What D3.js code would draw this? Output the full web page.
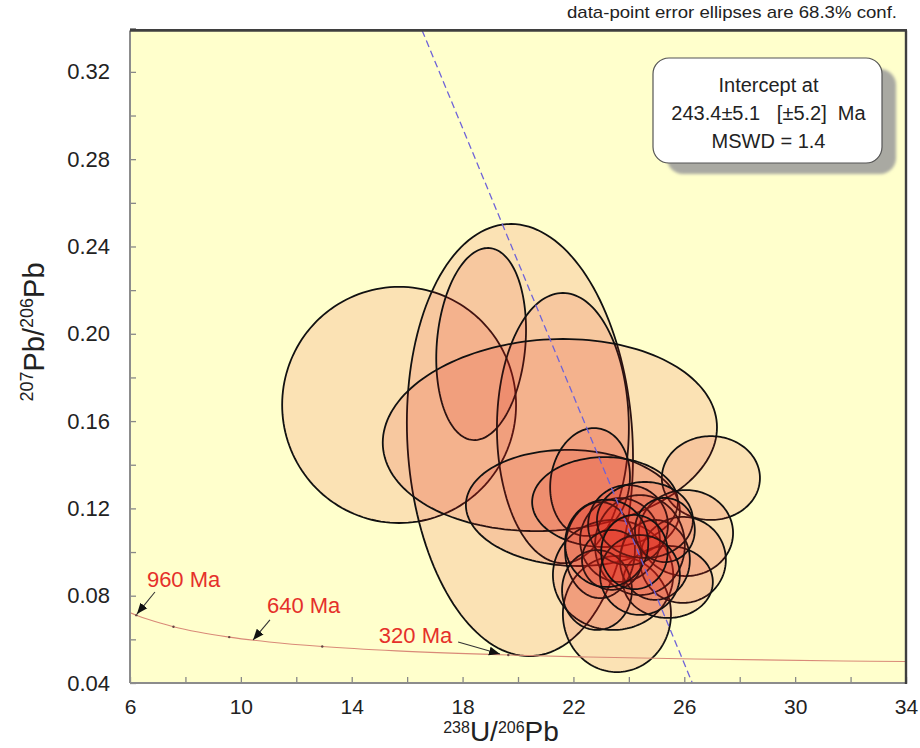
<!DOCTYPE html>
<html>
<head>
<meta charset="utf-8">
<script src="https://cdn.jsdelivr.net/npm/d3@7/dist/d3.min.js"></script>
<style>
  html, body { margin: 0; padding: 0; background: #ffffff; }
  svg { display: block; font-family: "Liberation Sans", Arial, Helvetica, sans-serif; }
</style>
</head>
<body>
<svg id="chart" width="920" height="748"></svg>
<script>
// Tera-Wasserburg concordia points (age in Ma, 238U/206Pb, 207Pb/206Pb)
const concordiaAge = [1000, 960, 900, 800, 720, 640, 560, 480, 400, 320, 280, 240, 200, 187];
const concordiaU  = [5.960, 6.228, 6.675, 7.568, 8.462, 9.580, 11.018, 12.937, 15.620, 19.650, 22.528, 26.365, 31.736, 33.976];
const concordiaPb = [0.07250, 0.07109, 0.06905, 0.06580, 0.06335, 0.06102, 0.05881, 0.05671, 0.05470, 0.05280, 0.05188, 0.05098, 0.05011, 0.04983];
// ages marked with a dot on the concordia
const markedAges = [960, 800, 640, 480, 320];

// Analyses: centre, half-extent of 68.3% ellipse on each axis, error correlation
const spotU   = [15.71, 20.07, 18.67, 21.62, 21.15, 21.98, 26.96, 22.60, 23.14, 23.57, 23.43, 26.06, 25.95, 25.41, 24.40, 23.68, 22.96, 24.94, 23.97, 24.58, 22.85, 25.30, 23.39, 24.40, 23.20, 24.20];
const spotPb  = [0.1674, 0.1513, 0.1953, 0.1568, 0.1536, 0.1202, 0.1339, 0.1321, 0.1229, 0.0716, 0.0895, 0.1087, 0.0964, 0.0863, 0.1032, 0.1055, 0.1009, 0.0964, 0.1124, 0.1147, 0.0826, 0.1101, 0.0964, 0.0895, 0.1040, 0.1000];
const errU    = [4.22, 4.08, 1.62, 2.38, 6.03, 3.86, 1.77, 1.44, 2.63, 1.95, 2.17, 1.70, 1.55, 1.62, 1.62, 1.44, 1.26, 1.26, 1.44, 1.73, 1.26, 1.08, 1.08, 1.44, 1.50, 1.20];
const errPb   = [0.0541, 0.0990, 0.0440, 0.0619, 0.0440, 0.0266, 0.0192, 0.0247, 0.0206, 0.0266, 0.0252, 0.0197, 0.0197, 0.0165, 0.0229, 0.0192, 0.0220, 0.0183, 0.0183, 0.0174, 0.0183, 0.0147, 0.0137, 0.0183, 0.0200, 0.0170];
const errRho  = [0.00, -0.08, 0.15, 0.00, 0.08, -0.05, 0.00, 0.10, 0.00, 0.00, 0.00, 0.00, 0.00, 0.00, 0.00, 0.00, 0.00, 0.00, 0.00, 0.00, 0.00, 0.00, 0.00, 0.00, 0.00, 0.00];

// Regression (discordia) line end points
const discordiaU  = [16.54, 26.29];
const discordiaPb = [0.339, 0.040];

// Age labels on the concordia: text anchor, arrow start, arrow tip (data units)
const ageLabels = ["960 Ma", "640 Ma", "320 Ma"];
const labelU    = [6.61, 10.94, 14.98];
const labelPb   = [0.0840, 0.0721, 0.0583];
const arrowFromU  = [6.90, 11.05, 17.84];
const arrowFromPb = [0.0817, 0.0689, 0.0588];
const arrowToU    = [6.25, 10.44, 19.35];
const arrowToPb   = [0.0716, 0.0597, 0.0533];

// Axis ticks
const xTicks = d3.range(6, 34.001, 2);
const xLabelTicks = [6, 10, 14, 18, 22, 26, 30, 34];
const yTicks = d3.range(0.04, 0.3401, 0.02).map(v => +v.toFixed(2));
const yLabelTicks = [0.04, 0.08, 0.12, 0.16, 0.20, 0.24, 0.28, 0.32];

const noteText = "data-point error ellipses are 68.3% conf.";
const resultLines = ["Intercept at", "243.4\u00b15.1\u00a0\u00a0\u00a0[\u00b15.2]\u00a0\u00a0Ma", "MSWD = 1.4"];

// ---------------------------------------------------------------------------
const svg = d3.select("#chart");
const L = 130, R = 906, T = 30.4, B = 683;
const x = d3.scaleLinear().domain([6, 34]).range([L, R]);
const y = d3.scaleLinear().domain([0.04, 0.339]).range([B, T]);

const defs = svg.append("defs");
defs.append("clipPath").attr("id", "plotClip")
  .append("rect").attr("x", L).attr("y", T).attr("width", R - L).attr("height", B - T);
defs.append("marker").attr("id", "arrowHead")
  .attr("viewBox", "0 0 10 10").attr("refX", 10).attr("refY", 5)
  .attr("markerWidth", 11).attr("markerHeight", 11).attr("markerUnits", "userSpaceOnUse")
  .attr("orient", "auto")
  .append("path").attr("d", "M0,1 L10,5 L0,9 Z").attr("fill", "#111");
const blur = defs.append("filter").attr("id", "shadowBlur").attr("x", "-10%").attr("y", "-10%").attr("width", "120%").attr("height", "120%");
blur.append("feGaussianBlur").attr("stdDeviation", 1.5);

// plot background
svg.append("rect").attr("x", L).attr("y", T).attr("width", R - L).attr("height", B - T)
  .attr("fill", "#ffffcc");

const plot = svg.append("g").attr("clip-path", "url(#plotClip)");

// error ellipses
const ellipses = spotU.map((u, i) => ({ u, pb: spotPb[i], eu: errU[i], ep: errPb[i], rho: errRho[i] }));
const ellipseLine = d3.line().curve(d3.curveLinearClosed);
function ellipsePoints(d) {
  const pts = [];
  const s = Math.sqrt(1 - d.rho * d.rho);
  for (let k = 0; k < 160; k++) {
    const t = (k / 160) * 2 * Math.PI;
    const du = d.eu * Math.cos(t);
    const dp = d.ep * (d.rho * Math.cos(t) + s * Math.sin(t));
    pts.push([x(d.u + du), y(d.pb + dp)]);
  }
  return pts;
}
plot.append("g").selectAll("path").data(ellipses).join("path")
  .attr("d", d => ellipseLine(ellipsePoints(d)))
  .attr("fill", "rgb(225,30,20)")
  .attr("fill-opacity", 0.13)
  .attr("stroke", "#111")
  .attr("stroke-width", 1.8);

// concordia curve
const conc = concordiaU.map((u, i) => ({ u, pb: concordiaPb[i], age: concordiaAge[i] }));
plot.append("path")
  .datum(conc)
  .attr("d", d3.line().x(d => x(d.u)).y(d => y(d.pb)).curve(d3.curveMonotoneX))
  .attr("fill", "none")
  .attr("stroke", "#d98a78")
  .attr("stroke-width", 1.1);
plot.append("g").selectAll("circle")
  .data(conc.filter(d => markedAges.includes(d.age)))
  .join("circle")
  .attr("cx", d => x(d.u)).attr("cy", d => y(d.pb)).attr("r", 1.2)
  .attr("fill", "#664444");

// discordia
plot.append("line")
  .attr("x1", x(discordiaU[0])).attr("y1", y(discordiaPb[0]))
  .attr("x2", x(discordiaU[1])).attr("y2", y(discordiaPb[1]))
  .attr("stroke", "#6f63d8")
  .attr("stroke-width", 1.3)
  .attr("stroke-dasharray", "7,4");

// age labels and arrows
const ann = svg.append("g");
ageLabels.forEach((txt, i) => {
  ann.append("line")
    .attr("x1", x(arrowFromU[i])).attr("y1", y(arrowFromPb[i]))
    .attr("x2", x(arrowToU[i])).attr("y2", y(arrowToPb[i]))
    .attr("stroke", "#333").attr("stroke-width", 1.1)
    .attr("marker-end", "url(#arrowHead)");
  ann.append("text")
    .attr("x", x(labelU[i])).attr("y", y(labelPb[i]))
    .attr("fill", "#e5302a")
    .attr("font-size", 22)
    .text(txt);
});

// axes: inward ticks
const xAxis = d3.axisBottom(x).tickValues(xTicks).tickSize(-6).tickPadding(16)
  .tickFormat(d => xLabelTicks.includes(d) ? d3.format("d")(d) : "");
const gx = svg.append("g").attr("transform", `translate(0,${B})`).call(xAxis);
const yAxis = d3.axisLeft(y).tickValues(yTicks).tickSize(-6).tickPadding(20)
  .tickFormat(d => yLabelTicks.some(v => Math.abs(v - d) < 1e-9) ? d3.format(".2f")(d) : "");
const gy = svg.append("g").attr("transform", `translate(${L},0)`).call(yAxis);
[gx, gy].forEach(g => {
  g.select(".domain").remove();
  g.selectAll(".tick line").attr("stroke", "#888").attr("stroke-width", 1.3);
  g.selectAll(".tick text").attr("fill", "#222")
    .attr("font-family", "'Liberation Sans', Arial, sans-serif");
});
gx.selectAll(".tick text").attr("font-size", 21);
gy.selectAll(".tick text").attr("font-size", 22);

// frame: light left/bottom, dark top/right
svg.append("line").attr("x1", L).attr("y1", T).attr("x2", L).attr("y2", B)
  .attr("stroke", "#8c8c8c").attr("stroke-width", 2);
svg.append("line").attr("x1", L).attr("y1", B).attr("x2", R).attr("y2", B)
  .attr("stroke", "#8c8c8c").attr("stroke-width", 2);
svg.append("line").attr("x1", L).attr("y1", T).attr("x2", R + 1).attr("y2", T)
  .attr("stroke", "#3f3f3f").attr("stroke-width", 2.6);
svg.append("line").attr("x1", R).attr("y1", T).attr("x2", R).attr("y2", B + 1)
  .attr("stroke", "#3f3f3f").attr("stroke-width", 2.4);

// axis titles
const xt = svg.append("text").attr("x", 501).attr("y", 741).attr("text-anchor", "middle")
  .attr("fill", "#222").attr("font-size", 28);
xt.append("tspan").attr("font-size", 16).attr("dy", -8).text("238");
xt.append("tspan").attr("dy", 8).text("U/");
xt.append("tspan").attr("font-size", 16).attr("dy", -8).text("206");
xt.append("tspan").attr("dy", 8).text("Pb");

const yt = svg.append("text")
  .attr("transform", "translate(44,332) rotate(-90)")
  .attr("text-anchor", "middle").attr("fill", "#222").attr("font-size", 29);
yt.append("tspan").attr("font-size", 18).attr("dy", -11).text("207");
yt.append("tspan").attr("dy", 11).text("Pb/");
yt.append("tspan").attr("font-size", 18).attr("dy", -11).text("206");
yt.append("tspan").attr("dy", 11).text("Pb");

// confidence note
svg.append("text").attr("x", 897).attr("y", 18).attr("text-anchor", "end")
  .attr("fill", "#222").attr("font-size", 17)
  .attr("textLength", 330).attr("lengthAdjust", "spacingAndGlyphs")
  .text(noteText);

// result box with drop shadow
const bx = 653, by = 58, bw = 229, bh = 105;
svg.append("rect").attr("x", bx + 14).attr("y", by + 11).attr("width", bw).attr("height", bh)
  .attr("rx", 16).attr("fill", "#a9a9a2").attr("filter", "url(#shadowBlur)");
svg.append("rect").attr("x", bx).attr("y", by).attr("width", bw).attr("height", bh)
  .attr("rx", 16).attr("fill", "#ffffff").attr("stroke", "#555").attr("stroke-width", 1.2);
resultLines.forEach((s, i) => {
  svg.append("text").attr("x", bx + bw / 2 + 1).attr("y", 92 + i * 28)
    .attr("text-anchor", "middle").attr("fill", "#222").attr("font-size", 20).text(s);
});
</script>
</body>
</html>
